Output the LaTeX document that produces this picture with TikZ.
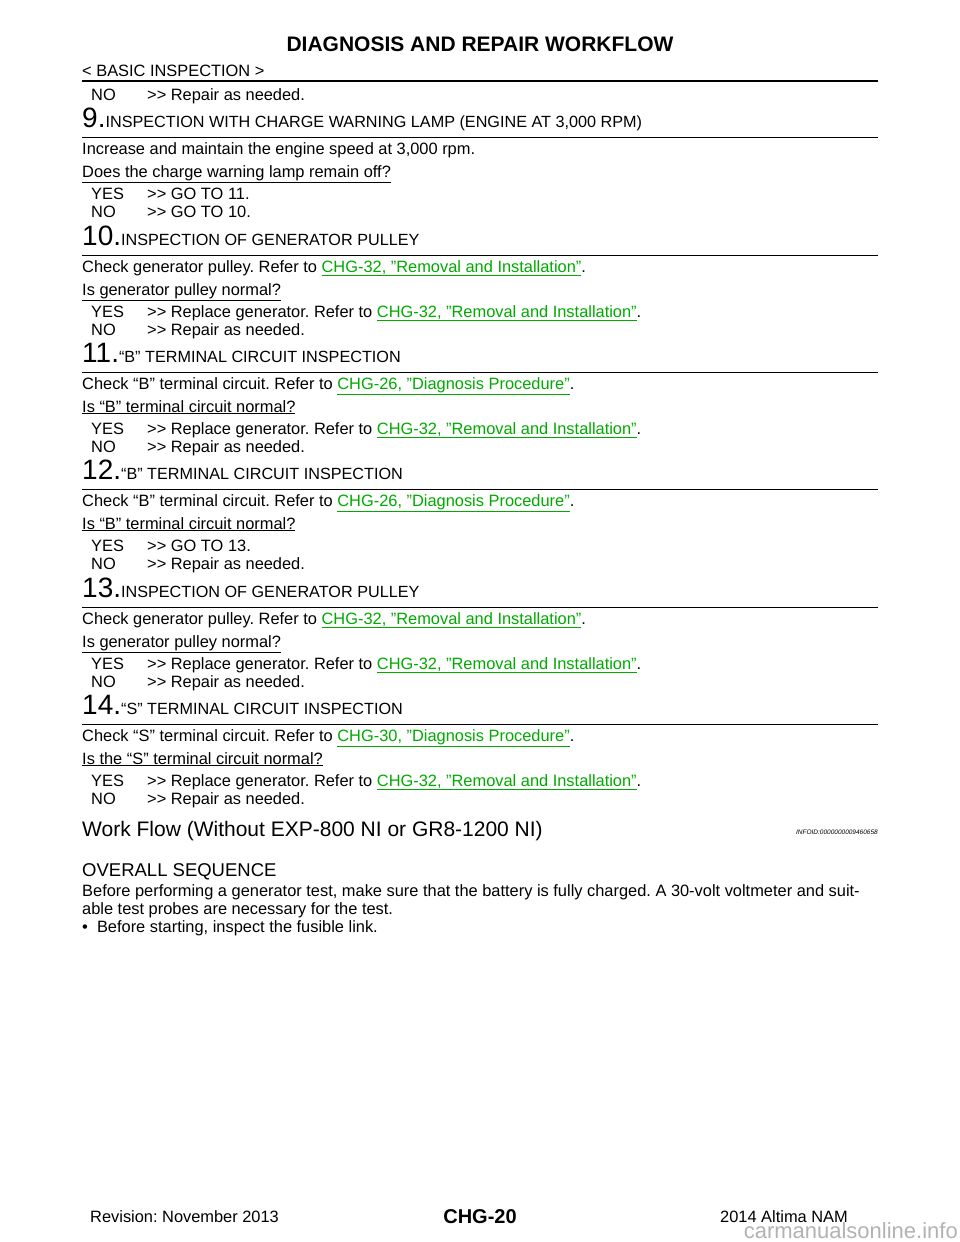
\documentclass[tikz,border=0pt]{standalone}
\usepackage{fontspec}
\setmainfont{Liberation Sans}
\frenchspacing
\definecolor{lnk}{RGB}{0,170,0}
\newcommand{\lk}[1]{\textcolor{lnk}{\underline{#1}}}
\newcommand{\gt}{{>}{>}}
\newcommand{\qq}{\symbol{34}}
\newcommand{\hd}[2]{{\fontsize{28}{28}\selectfont #1.}{\fontsize{16.2}{16}\selectfont #2}}
\begin{document}
\begin{tikzpicture}[x=1pt,y=-1pt,
  t/.style={anchor=base west,inner sep=0pt,font=\fontsize{16.4}{18}\selectfont},
  rule/.style={line width=0.8pt}]
\useasboundingbox (0,0) rectangle (960,1242);
\node[anchor=base east,inner sep=0pt,font=\fontsize{22}{22}\selectfont,text=black!30] (wm) at (958,1238) {carmanualsonline.info};
\node[anchor=base,inner sep=0pt,font=\bfseries\fontsize{21}{21}\selectfont] (title) at (480,51) {DIAGNOSIS AND REPAIR WORKFLOW};
\node[t] (sec) at (82,76) {< BASIC INSPECTION >};
\draw[line width=2pt] (82,81) -- (878,81);
\node[t] (a0) at (91,100) {NO};\node[t] (a1) at (147,100) {\gt{} Repair as needed.};
% 9
\node[t] (h9) at (82,127) {\hd{9}{INSPECTION WITH CHARGE WARNING LAMP (ENGINE AT 3,000 RPM)}};
\draw[rule] (82,137) -- (878,137);
\node[t] (b9) at (82,154) {Increase and maintain the engine speed at 3,000 rpm.};
\node[t] (q9) at (82,177) {\underline{Does the charge warning lamp remain off?}};
\node[t] (y9) at (91,199) {YES};\node[t] (y9b) at (147,199) {\gt{} GO TO 11.};
\node[t] (n9) at (91,217) {NO};\node[t] (n9b) at (147,217) {\gt{} GO TO 10.};
% 10
\node[t] (h10) at (82,245) {\hd{10}{INSPECTION OF GENERATOR PULLEY}};
\draw[rule] (82,255) -- (878,255);
\node[t] (b10) at (82,272) {Check generator pulley. Refer to \lk{CHG-32, \qq Removal and Installation\qq}.};
\node[t] (q10) at (82,295) {\underline{Is generator pulley normal?}};
\node[t] (y10) at (91,317) {YES};\node[t] (y10b) at (147,317) {\gt{} Replace generator. Refer to \lk{CHG-32, \qq Removal and Installation\qq}.};
\node[t] (n10) at (91,335) {NO};\node[t] (n10b) at (147,335) {\gt{} Repair as needed.};
% 11
\node[t] (h11) at (82,362) {\hd{11}{“B” TERMINAL CIRCUIT INSPECTION}};
\draw[rule] (82,372) -- (878,372);
\node[t] (b11) at (82,389) {Check “B” terminal circuit. Refer to \lk{CHG-26, \qq Diagnosis Procedure\qq}.};
\node[t] (q11) at (82,412) {\underline{Is “B” terminal circuit normal?}};
\node[t] (y11) at (91,434) {YES};\node[t] (y11b) at (147,434) {\gt{} Replace generator. Refer to \lk{CHG-32, \qq Removal and Installation\qq}.};
\node[t] (n11) at (91,452) {NO};\node[t] (n11b) at (147,452) {\gt{} Repair as needed.};
% 12
\node[t] (h12) at (82,479) {\hd{12}{“B” TERMINAL CIRCUIT INSPECTION}};
\draw[rule] (82,489) -- (878,489);
\node[t] (b12) at (82,506) {Check “B” terminal circuit. Refer to \lk{CHG-26, \qq Diagnosis Procedure\qq}.};
\node[t] (q12) at (82,529) {\underline{Is “B” terminal circuit normal?}};
\node[t] (y12) at (91,551) {YES};\node[t] (y12b) at (147,551) {\gt{} GO TO 13.};
\node[t] (n12) at (91,569) {NO};\node[t] (n12b) at (147,569) {\gt{} Repair as needed.};
% 13
\node[t] (h13) at (82,597) {\hd{13}{INSPECTION OF GENERATOR PULLEY}};
\draw[rule] (82,607) -- (878,607);
\node[t] (b13) at (82,624) {Check generator pulley. Refer to \lk{CHG-32, \qq Removal and Installation\qq}.};
\node[t] (q13) at (82,647) {\underline{Is generator pulley normal?}};
\node[t] (y13) at (91,669) {YES};\node[t] (y13b) at (147,669) {\gt{} Replace generator. Refer to \lk{CHG-32, \qq Removal and Installation\qq}.};
\node[t] (n13) at (91,687) {NO};\node[t] (n13b) at (147,687) {\gt{} Repair as needed.};
% 14
\node[t] (h14) at (82,714) {\hd{14}{“S” TERMINAL CIRCUIT INSPECTION}};
\draw[rule] (82,724) -- (878,724);
\node[t] (b14) at (82,741) {Check “S” terminal circuit. Refer to \lk{CHG-30, \qq Diagnosis Procedure\qq}.};
\node[t] (q14) at (82,764) {\underline{Is the “S” terminal circuit normal?}};
\node[t] (y14) at (91,786) {YES};\node[t] (y14b) at (147,786) {\gt{} Replace generator. Refer to \lk{CHG-32, \qq Removal and Installation\qq}.};
\node[t] (n14) at (91,804) {NO};\node[t] (n14b) at (147,804) {\gt{} Repair as needed.};
% work flow
\node[t,font=\fontsize{21}{21}\selectfont] (wf) at (82,836) {Work Flow (Without EXP-800 NI or GR8-1200 NI)};
\node[anchor=base east,inner sep=0pt,font=\itshape\fontsize{6.5}{6}\selectfont] (info) at (878,834) {INFOID:0000000009460658};
\node[t,font=\fontsize{18.5}{18}\selectfont] (ov) at (82,876) {OVERALL SEQUENCE};
\node[t,text width=796pt,align=justify] (p1) at (82,896) {Before performing a generator test, make sure that the battery is fully charged. A 30-volt voltmeter and suit-};
\node[t] (p2) at (82,914) {able test probes are necessary for the test.};
\node[t] (p3) at (82,932) {•\ \ Before starting, inspect the fusible link.};
% footer
\node[t] (rev) at (90,1222) {Revision: November 2013};
\node[anchor=base,inner sep=0pt,font=\bfseries\fontsize{20}{20}\selectfont] (pg) at (480,1223) {CHG-20};
\node[anchor=base east,inner sep=0pt,font=\fontsize{16.4}{18}\selectfont] (car) at (848,1222) {2014 Altima NAM};
\end{tikzpicture}
\end{document}
